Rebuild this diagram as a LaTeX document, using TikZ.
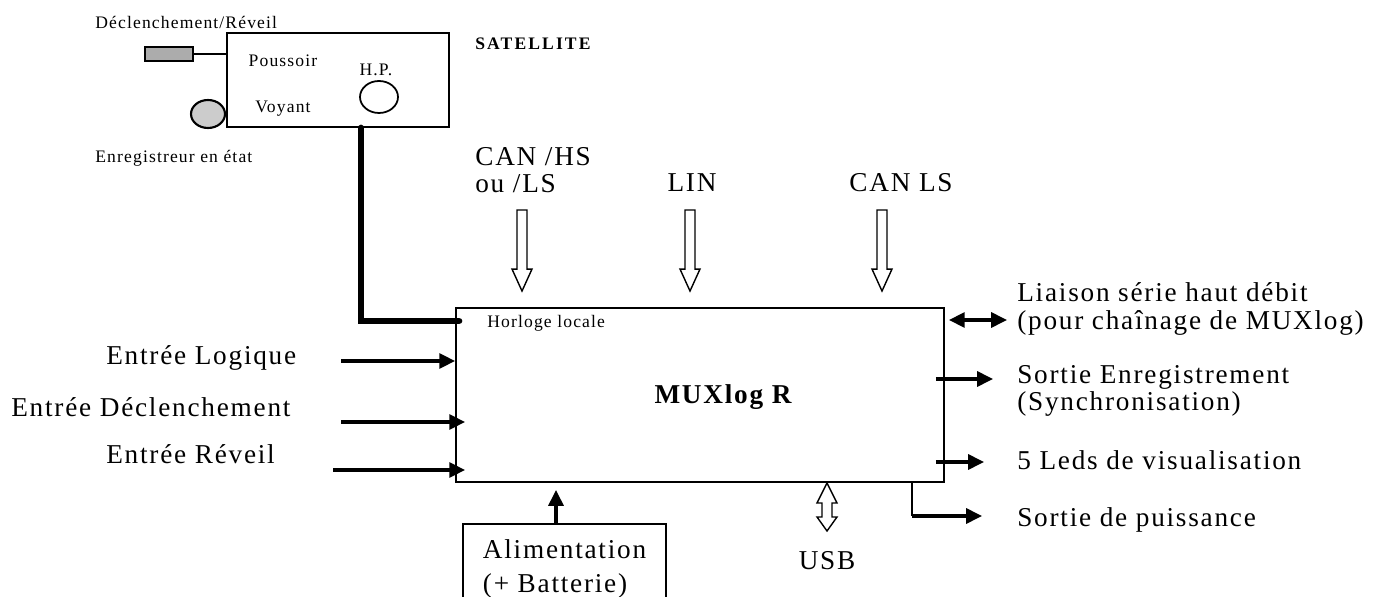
\documentclass[tikz,border=0pt]{standalone}
\usepackage{fontspec}
\setmainfont{Liberation Serif}[LetterSpace=6.5]
\usetikzlibrary{arrows.meta, positioning, shapes.geometric, calc}

\tikzset{
  x=0.02cm, y=-0.02cm,
  big/.style={font=\fontsize{15.5}{15.5}\selectfont, inner sep=0pt, align=left},
  small/.style={font=\fontsize{10}{12}\selectfont, inner sep=0pt},
  frame/.style={draw, line width=1.1pt, inner sep=0pt},
  thickarrow/.style={line width=1.9pt, -{Triangle[length=9pt, width=8.5pt]}},
  bothway/.style={line width=1.9pt, {Triangle[length=9pt, width=8.5pt]}-{Triangle[length=9pt, width=8.5pt]}},
  blockline/.style={line width=0.8pt, line join=miter},
  cable/.style={line width=3.8pt, line cap=round},
}

% hollow block arrow from (#1) down to the top of the MUXlog box
\newcommand{\blockdown}[1]{%
  \coordinate (#1-tip) at ($(#1 |- mux.north)+(0,-16)$);
  \draw[blockline] ($(#1)+(-5,0)$) -- ($(#1-tip)+(-5,-22)$) -- ($(#1-tip)+(-10,-22)$)
    -- (#1-tip) -- ($(#1-tip)+(10,-22)$) -- ($(#1-tip)+(5,-22)$) -- ($(#1)+(5,0)$) -- cycle;}

\begin{document}
\begin{tikzpicture}
  \useasboundingbox (0,0) rectangle (1376,597);

  % satellite
  \node[frame, minimum width=4.44cm, minimum height=1.88cm] (sat) at (338,80) {};
  \node[small] (push) at (283,61) {Poussoir};
  \node[small] (lamp) at (283,109) {Voyant};
  \node[small] (hp) at (376,70) {H.P.};
  \node[ellipse, draw, line width=1pt, minimum width=0.76cm, minimum height=0.64cm, inner sep=0pt] (spk) at (379,97) {};
  \node[small, anchor=west, font=\fontsize{10}{12}\selectfont\bfseries\addfontfeatures{LetterSpace=12}] (satname) at (475,44) {SATELLITE};
  \node[small, anchor=west] (trig) at (95,22) {Déclenchement/Réveil};
  \node[draw, line width=1.2pt, fill=gray!65, minimum width=0.96cm, minimum height=0.28cm, inner sep=0pt] (btn) at (169,54) {};
  \draw[line width=0.8pt] (btn.east) -- (btn -| sat.west);
  \node[ellipse, draw, line width=1.2pt, fill=gray!40, minimum width=0.68cm, minimum height=0.56cm, inner sep=0pt] (led) at (208,114) {};
  \node[small, anchor=west] (state) at (95,158) {Enregistreur en état};

  % MUXlog box
  \node[frame, minimum width=9.76cm, minimum height=3.48cm] (mux) at (700,395) {};
  \node[font=\fontsize{15.5}{15.5}\selectfont\bfseries, inner sep=0pt] (muxname) at (723,397) {MUXlog R};
  \node[small, anchor=west] (clock) at (487,323) {Horloge locale};
  \coordinate (clockpt) at (459,321);
  \draw[cable] ([xshift=0.46cm]sat.south) |- (clockpt);

  % bus inputs
  \node[big, anchor=west] (canhs) at (475,170) {CAN /HS\\ou /LS};
  \node[big] (lin) at (692,183) {LIN};
  \node[big] (canls) at (901,183) {CAN LS};
  \coordinate (canhs-a) at (522,210);
  \coordinate (lin-a) at (690,210);
  \coordinate (canls-a) at (882,210);
  \blockdown{canhs-a}
  \blockdown{lin-a}
  \blockdown{canls-a}

  % left inputs
  \node[big, anchor=west] (logic) at (106,358) {Entrée Logique};
  \node[big, anchor=west] (trigin) at (11,407) {Entrée Déclenchement};
  \node[big, anchor=west] (wake) at (106,454) {Entrée Réveil};
  \coordinate (logic-in) at (341,361);
  \coordinate (trig-in) at (341,422);
  \coordinate (wake-in) at (333,470);
  \draw[thickarrow] (logic-in) -- (logic-in -| mux.west);
  \draw[thickarrow] (trig-in) -- ([xshift=0.2cm]trig-in -| mux.west);
  \draw[thickarrow] (wake-in) -- ([xshift=0.2cm]wake-in -| mux.west);

  % right outputs
  \node[big, anchor=west] (serial) at (1017,309) {Liaison série haut débit\\(pour chaînage de MUXlog)};
  \node[big, anchor=west] (rec) at (1017,391) {Sortie Enregistrement\\(Synchronisation)};
  \node[big, anchor=west] (leds) at (1017,460) {5 Leds de visualisation};
  \node[big, anchor=west] (power) at (1017,520) {Sortie de puissance};
  \coordinate (serial-out) at (1007,320);
  \coordinate (rec-out) at (993,379);
  \coordinate (leds-out) at (984,462);
  \coordinate (power-pt) at (912,516);
  \coordinate (power-out) at (982,516);
  \draw[bothway] ([xshift=0.08cm]serial-out -| mux.east) -- (serial-out);
  \draw[thickarrow] ([xshift=-0.18cm]rec-out -| mux.east) -- (rec-out);
  \draw[thickarrow] ([xshift=-0.18cm]leds-out -| mux.east) -- (leds-out);
  \draw[line width=0.6pt] (power-pt |- mux.south) -- (power-pt);
  \draw[thickarrow] (power-pt) -- (power-out);

  % USB
  \coordinate (usbtop) at (827,483);
  \coordinate (usbbot) at (827,531);
  \draw[blockline] (usbtop) -- ($(usbtop)+(10,20)$) -- ($(usbtop)+(5,20)$) -- ($(usbbot)+(5,-14)$)
    -- ($(usbbot)+(10,-14)$) -- (usbbot) -- ($(usbbot)+(-10,-14)$) -- ($(usbbot)+(-5,-14)$)
    -- ($(usbtop)+(-5,20)$) -- ($(usbtop)+(-10,20)$) -- cycle;
  \node[big] (usb) at (827,561) {USB};

  % supply
  \node[frame, big, anchor=north west, inner xsep=0.4cm, inner ysep=0.32cm, font=\fontsize{15.5}{19.3}\selectfont] (alim) at (462,523) {Alimentation\\(+ Batterie)};
  \coordinate (alim-in) at (556,490);
  \draw[thickarrow] (alim-in |- alim.north) -- (alim-in);
\end{tikzpicture}
\end{document}
